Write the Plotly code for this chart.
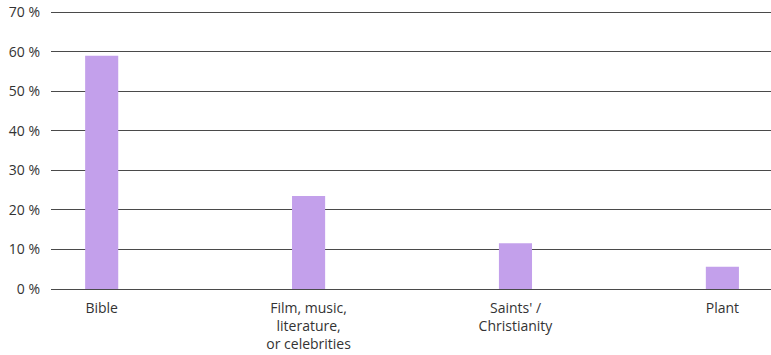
import plotly.graph_objects as go

categories = ["Bible", "Film, music,<br>literature,<br>or celebrities", "Saints' /<br>Christianity", "Plant"]
shares = [59, 23.5, 11.6, 5.6]
y_ticks = [0, 10, 20, 30, 40, 50, 60, 70]
y_tick_labels = [f"{v} %" for v in y_ticks]

fig = go.Figure(
    go.Bar(
        x=list(range(len(categories))),
        y=shares,
        width=0.16,
        marker=dict(color="#c3a0eb", line=dict(width=0)),
    )
)

fig.update_layout(
    width=771,
    height=355,
    margin=dict(l=51, r=0, t=11, b=66),
    paper_bgcolor="white",
    plot_bgcolor="white",
    font=dict(family="Open Sans", size=14, color="#333333"),
    showlegend=False,
    xaxis=dict(
        range=[-0.245, 3.235],
        tickmode="array",
        tickvals=list(range(len(categories))),
        ticktext=categories,
        showgrid=False,
        zeroline=False,
        showline=False,
        ticks="",
        ticklabelstandoff=9,
        fixedrange=True,
    ),
    yaxis=dict(
        range=[0, 70.3],
        tickmode="array",
        tickvals=y_ticks,
        ticktext=y_tick_labels,
        showgrid=True,
        gridcolor="#4a4a4a",
        gridwidth=1,
        zeroline=True,
        zerolinecolor="#4a4a4a",
        zerolinewidth=1,
        showline=False,
        ticks="",
        ticklabelstandoff=10,
        fixedrange=True,
    ),
)

fig.write_html("out.html")
